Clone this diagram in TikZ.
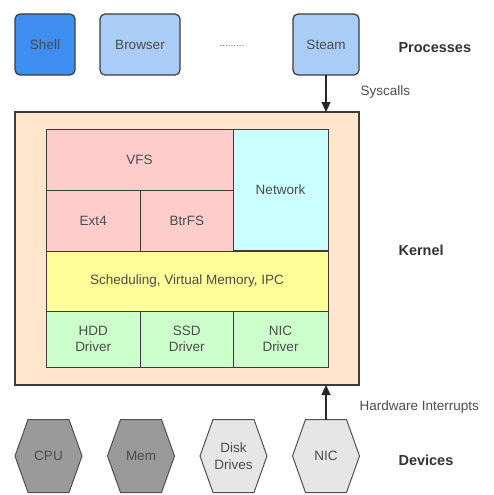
\documentclass[tikz,border=0pt]{standalone}
\usepackage{fontspec}
\setmainfont{Liberation Sans}
\usetikzlibrary{arrows.meta}

\definecolor{shellblue}{HTML}{3D8EF0}
\definecolor{procblue}{HTML}{A9CDF7}
\definecolor{kernelbg}{HTML}{FFE6CC}
\definecolor{fspink}{HTML}{FFCCCC}
\definecolor{netcyan}{HTML}{CCFFFF}
\definecolor{schedyellow}{HTML}{FFFF99}
\definecolor{drvgreen}{HTML}{CCFFCC}
\definecolor{devdark}{HTML}{9A9A9A}
\definecolor{devlight}{HTML}{E6E6E6}
\definecolor{edgegray}{HTML}{3C3C3C}

\tikzset{
  proc/.style={draw=edgegray, line width=1.2pt, rounded corners=5pt,
    minimum height=61pt, inner sep=0pt, outer sep=0pt,
    font=\fontsize{13.5}{16}\selectfont, text=black!70},
  kbox/.style={draw=edgegray, line width=1pt, inner sep=0pt, outer sep=0pt,
    anchor=north west, align=center,
    font=\fontsize{13.5}{16.5}\selectfont, text=black!70},
  hexline/.style={draw=edgegray!90, line width=1pt},
  devtext/.style={inner sep=0pt, outer sep=0pt, align=center,
    minimum width=67pt, minimum height=73pt,
    font=\fontsize{13.5}{16.5}\selectfont, text=black!70},
  sidelabel/.style={anchor=west, font=\fontsize{14.5}{17}\selectfont\bfseries, text=black!80},
  edgelabel/.style={anchor=west, font=\fontsize{13.5}{15}\selectfont, text=black!70},
  arr/.style={line width=1.2pt, draw=black!85,
    -{Triangle[length=10pt,width=9pt]}},
}

% hexagonal device: name, centre x, centre y, fill, label
\newcommand\devhex[5]{%
  \draw[hexline, fill=#4]
    (#2-33.5,#3) -- (#2-20.5,#3-36.5) -- (#2+20.5,#3-36.5) --
    (#2+33.5,#3) -- (#2+20.5,#3+36.5) -- (#2-20.5,#3+36.5) -- cycle;
  \node[devtext] (#1) at (#2,#3) {#5};
}

\begin{document}
\begin{tikzpicture}[x=1pt,y=-1pt]
\useasboundingbox (0,0) rectangle (494,495);

% user-space processes
\node[proc, fill=shellblue, minimum width=60pt] (shell) at (45,44.5) {Shell};
\node[proc, fill=procblue, minimum width=80pt] (browser) at (140,44.5) {Browser};
\node[font=\fontsize{10}{12}\selectfont, text=black!60] (dots) at (232,46) {.........};
\node[proc, fill=procblue, minimum width=66pt] (steam) at (326,44.5) {Steam};

% kernel and its subsystems
\node[kbox, fill=kernelbg, line width=1.4pt, minimum width=344pt, minimum height=273pt] (kernel) at (15,112) {};
\node[kbox, fill=fspink, minimum width=187pt, minimum height=61pt] (vfs) at (46,129.5) {VFS};
\node[kbox, fill=netcyan, minimum width=95pt, minimum height=121pt] (net) at (233,129.5) {Network};
\node[kbox, fill=fspink, minimum width=94.5pt, minimum height=60.5pt] (ext4) at (46,190.5) {Ext4};
\node[kbox, fill=fspink, minimum width=92.5pt, minimum height=60.5pt] (btrfs) at (140.5,190.5) {BtrFS};
\node[kbox, fill=schedyellow, minimum width=282pt, minimum height=60pt] (sched) at (46,251) {Scheduling, Virtual Memory, IPC};
\node[kbox, fill=drvgreen, minimum width=94.5pt, minimum height=56pt] (hdd) at (46,311) {HDD\\Driver};
\node[kbox, fill=drvgreen, minimum width=92.5pt, minimum height=56pt] (ssd) at (140.5,311) {SSD\\Driver};
\node[kbox, fill=drvgreen, minimum width=95pt, minimum height=56pt] (nicdrv) at (233,311) {NIC\\Driver};

% hardware devices
\devhex{cpu}{48.5}{456}{devdark}{CPU}
\devhex{mem}{141}{456}{devdark}{Mem}
\devhex{disk}{233.5}{456}{devlight}{Disk\\Drives}
\devhex{nic}{326}{456}{devlight}{NIC}

% connectors
\draw[arr] (steam.south) -- (steam.south |- kernel.north);
\draw[arr] (nic.north) -- (nic.north |- kernel.south);

% annotations
\node[edgelabel] (syscalls) at (357,92) {Syscalls};
\node[edgelabel] (hwint) at (356,407) {Hardware Interrupts};
\node[sidelabel] (lproc) at (395,48) {Processes};
\node[sidelabel] (lkern) at (395,250) {Kernel};
\node[sidelabel] (ldev) at (395,460) {Devices};
\end{tikzpicture}
\end{document}
